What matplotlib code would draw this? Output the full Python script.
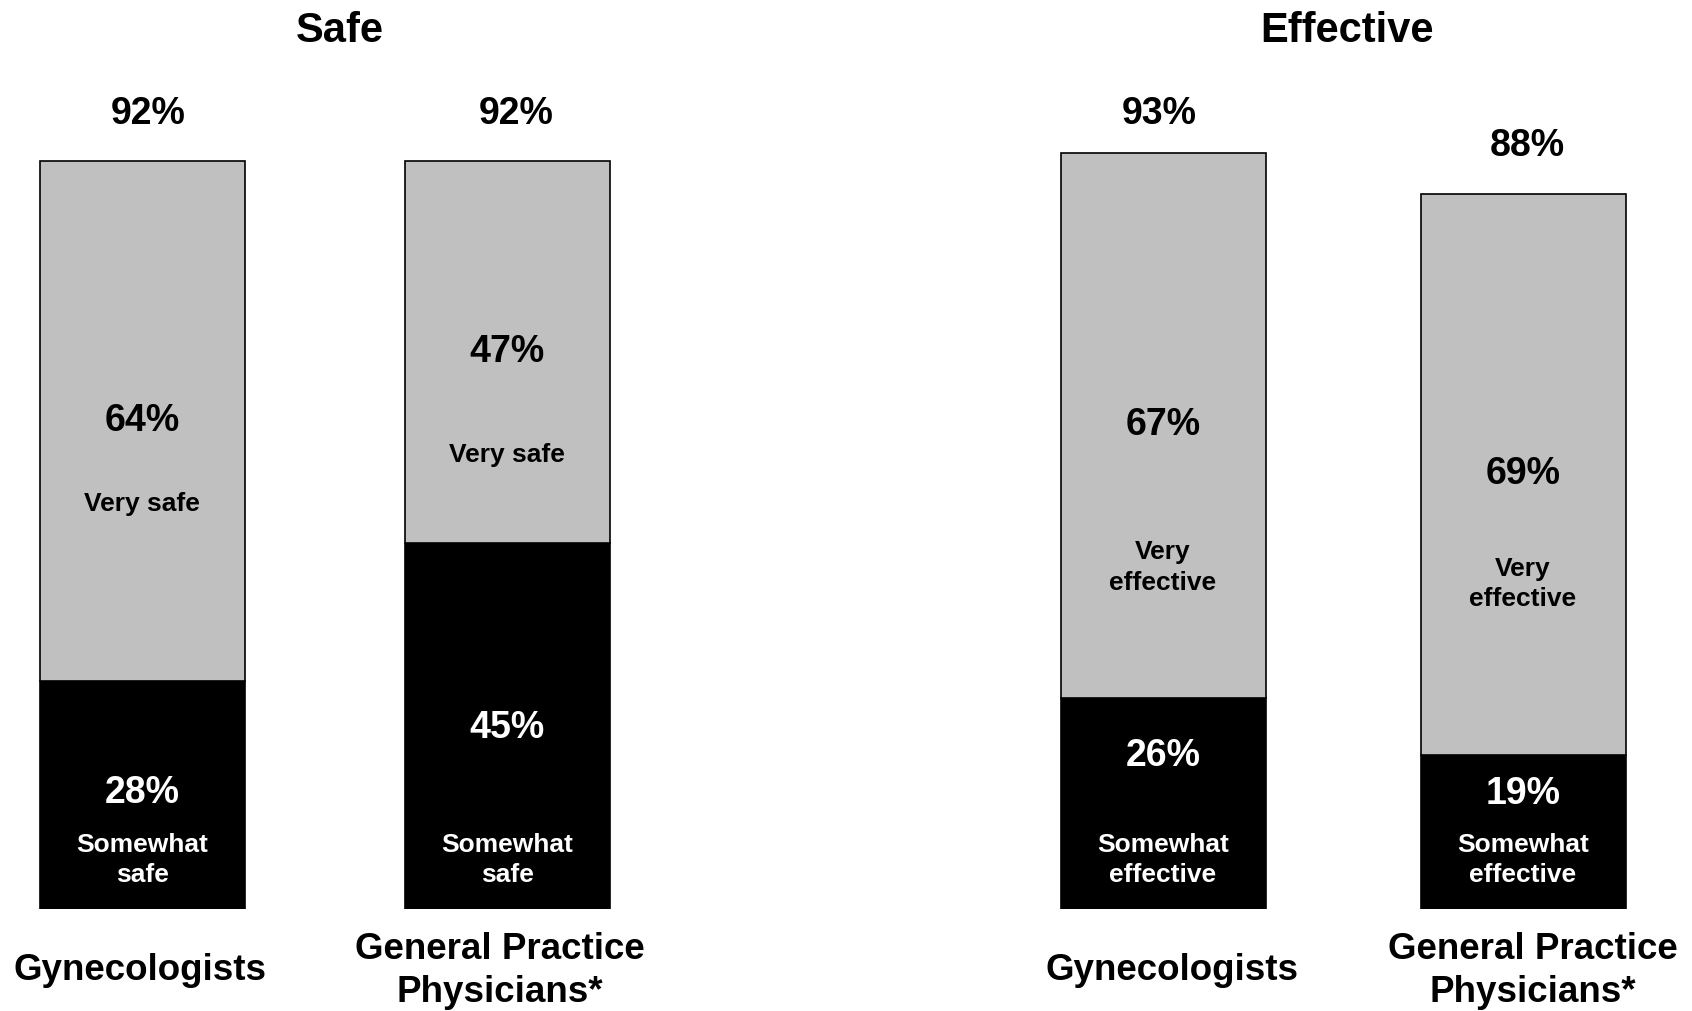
import matplotlib
matplotlib.use("Agg")
import matplotlib.pyplot as plt

plt.rcParams['font.family'] = ['Liberation Sans', 'DejaVu Sans']
plt.rcParams['font.weight'] = 'bold'

# datos
panels = ["Safe", "Effective"]
groups = ["Gynecologists", "General Practice\nPhysicians*",
          "Gynecologists", "General Practice\nPhysicians*"]
somewhat = [28, 45, 26, 19]
very = [64, 47, 67, 69]
totals = [92, 92, 93, 88]
very_text = ["Very safe", "Very safe", "Very\neffective", "Very\neffective"]
somewhat_text = ["Somewhat\nsafe", "Somewhat\nsafe", "Somewhat\neffective", "Somewhat\neffective"]

# posiciones (layout)
x_pos = [142, 507, 1163, 1523]
bar_w = 205
panel_x = [340, 1347]
total_y = [97.8, 97.8, 97.8, 93.8]
total_dx = [6, 9, -4, 4]
group_dx = [-2, -7, 9, 10]
very_sub_off = [-10.2, -12.7, -17.5, -13.5]
somewhat_pct_y = [14.3, 22.3, 18.8, 14.1]
somewhat_sub_y = 6.0

fig = plt.figure(figsize=(16.92, 10.11), dpi=100)
ax = fig.add_axes([0, 0.1009, 1, 0.8991])
ax.set_xlim(0, 1692)
ax.set_ylim(0, 111.8)
ax.axis('off')

ax.bar(x_pos, somewhat, width=bar_w, color='black', edgecolor='black', linewidth=1.2)
ax.bar(x_pos, very, width=bar_w, bottom=somewhat, color='#C0C0C0',
       edgecolor='black', linewidth=1.2)

for i in range(4):
    x = x_pos[i]
    ax.text(x + total_dx[i], total_y[i], f"{totals[i]}%", ha='center', va='center', fontsize=27)
    yc = somewhat[i] + very[i] / 2
    ax.text(x, yc, f"{very[i]}%", ha='center', va='center', fontsize=27)
    ax.text(x, yc + very_sub_off[i], very_text[i], ha='center', va='center',
            fontsize=19, linespacing=1.32)
    ax.text(x, somewhat_pct_y[i], f"{somewhat[i]}%", ha='center', va='center',
            fontsize=27, color='white')
    ax.text(x, somewhat_sub_y, somewhat_text[i], ha='center', va='center',
            fontsize=19, color='white', linespacing=1.32)
    ax.text(x + group_dx[i], -7.6, groups[i], ha='center', va='center', fontsize=26.5,
            linespacing=1.3)

for p, px in zip(panels, panel_x):
    ax.text(px, 108.0, p, ha='center', va='center', fontsize=30)

fig.savefig("out.png", dpi=100)
